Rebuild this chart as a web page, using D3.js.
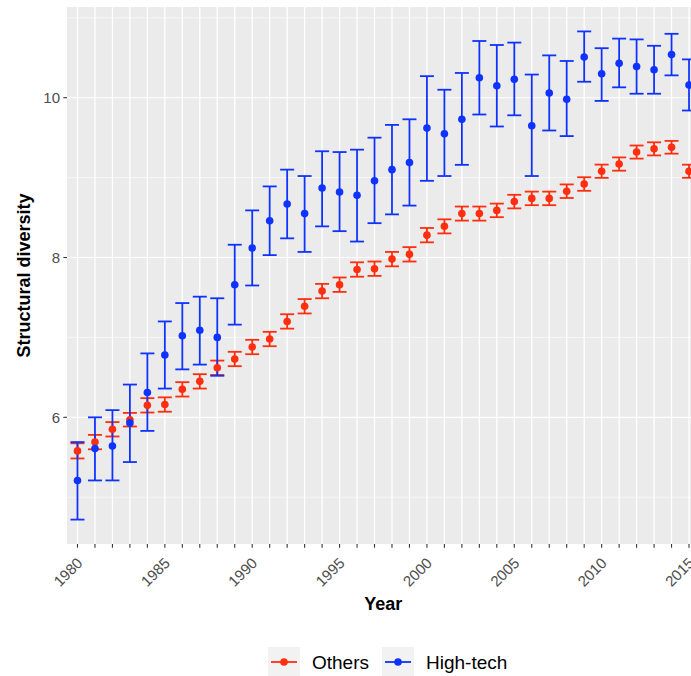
<!DOCTYPE html>
<html>
<head>
<meta charset="utf-8">
<script src="https://cdn.jsdelivr.net/npm/d3@7"></script>
<style>
    body { margin: 0; background: #fff; }
    svg { display: block; font-family: "Liberation Sans", Arial, Helvetica, sans-serif; }
    .tick-label { fill: #4d4d4d; font-size: 15px; }
    .title { fill: #000; font-size: 18px; font-weight: bold; }
    .legend-text { fill: #000; font-size: 19px; }
</style>
</head>
<body>
<svg id="chart" width="691" height="676"></svg>
<script>
    // data
    let years = d3.range(1980, 2016);

    let othersMean = [5.58, 5.69, 5.85, 5.97, 6.15, 6.16, 6.35, 6.45, 6.62, 6.73,
                      6.88, 6.98, 7.20, 7.39, 7.58, 7.66, 7.85, 7.86, 7.98, 8.04,
                      8.28, 8.39, 8.55, 8.55, 8.59, 8.70, 8.74, 8.74, 8.83, 8.92,
                      9.08, 9.17, 9.32, 9.36, 9.38, 9.08];
    let othersSe = [0.095, 0.09, 0.09, 0.085, 0.09, 0.09, 0.09, 0.09, 0.09, 0.09,
                    0.09, 0.09, 0.09, 0.09, 0.09, 0.09, 0.09, 0.09, 0.09, 0.09,
                    0.09, 0.088, 0.088, 0.088, 0.085, 0.085, 0.085, 0.085, 0.085, 0.085,
                    0.083, 0.083, 0.082, 0.082, 0.08, 0.082];

    let hightechMean = [5.21, 5.61, 5.64, 5.93, 6.31, 6.78, 7.02, 7.09, 7.00, 7.66,
                        8.12, 8.46, 8.67, 8.55, 8.87, 8.82, 8.78, 8.96, 9.10, 9.19,
                        9.62, 9.55, 9.73, 10.25, 10.15, 10.23, 9.65, 10.06, 9.98, 10.51,
                        10.30, 10.43, 10.39, 10.35, 10.54, 10.16];
    let hightechLow = [4.72, 5.21, 5.21, 5.44, 5.83, 6.36, 6.60, 6.66, 6.52, 7.16,
                       7.65, 8.03, 8.24, 8.07, 8.39, 8.33, 8.20, 8.43, 8.54, 8.65,
                       8.96, 9.02, 9.16, 9.79, 9.64, 9.78, 9.02, 9.59, 9.52, 10.20,
                       9.96, 10.13, 10.05, 10.05, 10.28, 9.84];
    let hightechHigh = [5.69, 6.00, 6.09, 6.41, 6.80, 7.20, 7.43, 7.51, 7.49, 8.16,
                        8.59, 8.89, 9.10, 9.02, 9.33, 9.32, 9.35, 9.50, 9.66, 9.73,
                        10.27, 10.10, 10.31, 10.71, 10.66, 10.69, 10.29, 10.53, 10.46, 10.83,
                        10.62, 10.74, 10.73, 10.65, 10.80, 10.48];

    let groups = ["Others", "High-tech"];
    let groupColors = ["#ff2e0f", "#0f33ff"];
    let yTicks = [6, 8, 10];
    let yMinor = [5, 7, 9, 11];
    let xLabelYears = [1980, 1985, 1990, 1995, 2000, 2005, 2010, 2015];

    // build rows: one per group per year
    let rows = [];
    years.forEach((yr, i) => {
        rows.push({group: "Others", year: yr, mean: othersMean[i],
                   lo: othersMean[i] - othersSe[i], hi: othersMean[i] + othersSe[i]});
    });
    years.forEach((yr, i) => {
        rows.push({group: "High-tech", year: yr, mean: hightechMean[i],
                   lo: hightechLow[i], hi: hightechHigh[i]});
    });

    let svg = d3.select("#chart");
    let panel = {left: 67, top: 7, right: 699.5, bottom: 544};

    let color = d3.scaleOrdinal().domain(groups).range(groupColors);

    // discrete x like ggplot (0.6 unit expansion)
    let x = d3.scalePoint()
        .domain(years)
        .range([panel.left, panel.right])
        .padding(0.6);

    // continuous y with 5% expansion
    let lo = d3.min(rows, d => d.lo), hi = d3.max(rows, d => d.hi);
    let pad = (hi - lo) * 0.05;
    let y = d3.scaleLinear()
        .domain([lo - pad, hi + pad])
        .range([panel.bottom, panel.top]);

    // panel background and grid
    svg.append("rect")
        .attr("x", panel.left).attr("y", panel.top)
        .attr("width", panel.right - panel.left)
        .attr("height", panel.bottom - panel.top)
        .attr("fill", "#ebebeb");

    let grid = svg.append("g");
    grid.selectAll(".minor").data(yMinor).enter().append("line")
        .attr("x1", panel.left).attr("x2", panel.right)
        .attr("y1", d => y(d)).attr("y2", d => y(d))
        .attr("stroke", "#fff").attr("stroke-width", 0.6);
    grid.selectAll(".majory").data(yTicks).enter().append("line")
        .attr("x1", panel.left).attr("x2", panel.right)
        .attr("y1", d => y(d)).attr("y2", d => y(d))
        .attr("stroke", "#fff").attr("stroke-width", 1.2);
    grid.selectAll(".majorx").data(years).enter().append("line")
        .attr("x1", d => x(d)).attr("x2", d => x(d))
        .attr("y1", panel.top).attr("y2", panel.bottom)
        .attr("stroke", "#fff").attr("stroke-width", 1.3);

    // error bars: red first, then blue
    let capW = 7;
    let bars = svg.append("g");
    groups.forEach(g => {
        let sub = rows.filter(r => r.group == g);
        let eb = bars.selectAll(null).data(sub).enter().append("g")
            .attr("stroke", color(g)).attr("stroke-width", 1.8).attr("fill", "none");
        eb.append("line")
            .attr("x1", d => x(d.year)).attr("x2", d => x(d.year))
            .attr("y1", d => y(d.lo)).attr("y2", d => y(d.hi));
        eb.append("line")
            .attr("x1", d => x(d.year) - capW).attr("x2", d => x(d.year) + capW)
            .attr("y1", d => y(d.lo)).attr("y2", d => y(d.lo));
        eb.append("line")
            .attr("x1", d => x(d.year) - capW).attr("x2", d => x(d.year) + capW)
            .attr("y1", d => y(d.hi)).attr("y2", d => y(d.hi));
    });

    // points on top
    let pts = svg.append("g");
    groups.forEach(g => {
        pts.selectAll(null).data(rows.filter(r => r.group == g)).enter().append("circle")
            .attr("cx", d => x(d.year)).attr("cy", d => y(d.mean))
            .attr("r", 3.8)
            .attr("fill", color(g));
    });

    // y axis
    let yAxis = svg.append("g");
    yAxis.selectAll("line").data(yTicks).enter().append("line")
        .attr("x1", panel.left - 3.7).attr("x2", panel.left)
        .attr("y1", d => y(d)).attr("y2", d => y(d))
        .attr("stroke", "#333").attr("stroke-width", 1.1);
    yAxis.selectAll("text").data(yTicks).enter().append("text")
        .attr("class", "tick-label")
        .attr("x", panel.left - 7).attr("y", d => y(d))
        .attr("dy", "0.36em")
        .attr("text-anchor", "end")
        .text(d => d);

    // x axis
    let xAxis = svg.append("g");
    xAxis.selectAll("line").data(years).enter().append("line")
        .attr("x1", d => x(d)).attr("x2", d => x(d))
        .attr("y1", panel.bottom).attr("y2", panel.bottom + 3.7)
        .attr("stroke", "#333").attr("stroke-width", 1.1);
    xAxis.selectAll("text").data(xLabelYears).enter().append("text")
        .attr("class", "tick-label")
        .attr("text-anchor", "end")
        .attr("transform", d => `translate(${x(d) + 6}, ${panel.bottom + 20}) rotate(-45)`)
        .text(d => d);

    // titles
    svg.append("text")
        .attr("class", "title")
        .attr("text-anchor", "middle")
        .attr("x", (panel.left + panel.right) / 2)
        .attr("y", 610)
        .text("Year");
    svg.append("text")
        .attr("class", "title")
        .attr("text-anchor", "middle")
        .attr("transform", `translate(30, ${(panel.top + panel.bottom) / 2}) rotate(-90)`)
        .text("Structural diversity");

    // legend
    let legend = svg.append("g");
    let lx = 268, keyW = 32, keyH = 30, ly = 647;
    groups.forEach(g => {
        let item = legend.append("g").attr("transform", `translate(${lx}, ${ly})`);
        item.append("rect")
            .attr("width", keyW).attr("height", keyH)
            .attr("fill", "#f2f2f2");
        item.append("line")
            .attr("x1", 3).attr("x2", keyW - 3)
            .attr("y1", keyH / 2).attr("y2", keyH / 2)
            .attr("stroke", color(g)).attr("stroke-width", 1.8);
        item.append("circle")
            .attr("cx", keyW / 2).attr("cy", keyH / 2).attr("r", 3.8)
            .attr("fill", color(g));
        let t = item.append("text")
            .attr("class", "legend-text")
            .attr("x", keyW + 12).attr("y", keyH / 2)
            .attr("dy", "0.36em")
            .text(g);
        lx += keyW + 12 + t.node().getComputedTextLength() + 13;
    });
</script>
</body>
</html>
